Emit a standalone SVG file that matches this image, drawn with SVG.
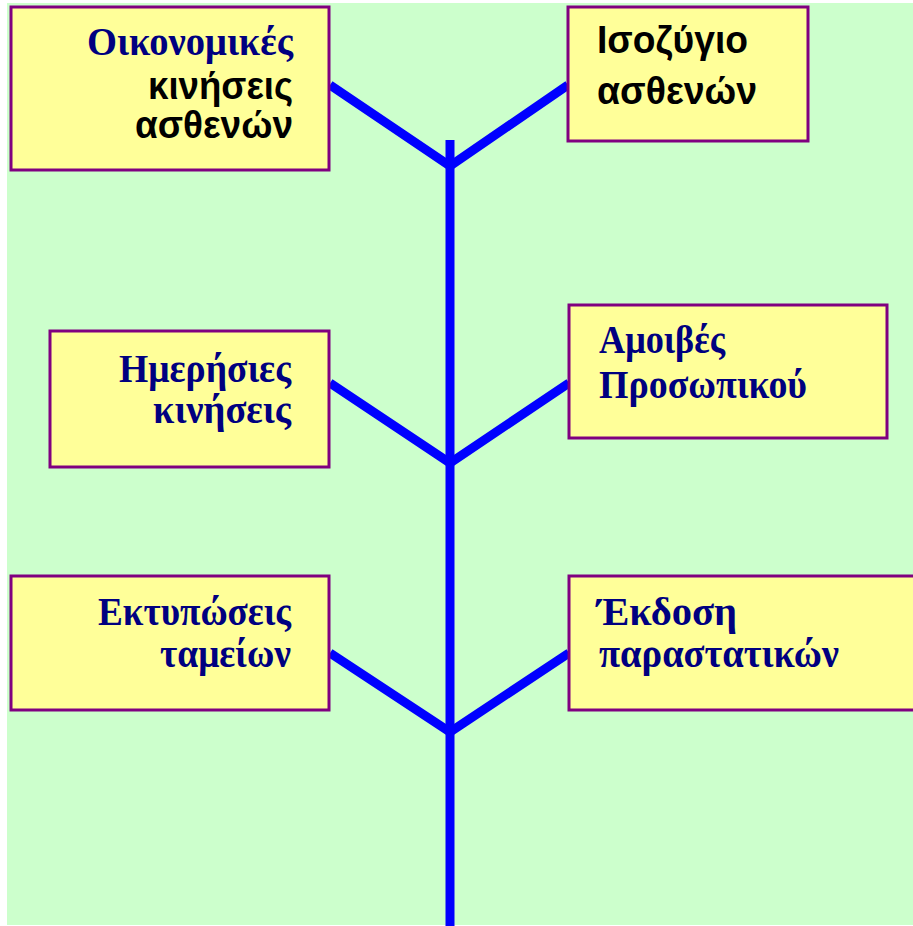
<svg xmlns="http://www.w3.org/2000/svg" width="913" height="926" viewBox="0 0 913 926">
<style>
.box{fill:#FFFF99;stroke:#800080;stroke-width:3}
.ser{font-family:"Liberation Serif","DejaVu Serif",serif;font-weight:bold;font-size:39px;fill:#000080}
.san{font-family:"Liberation Sans","DejaVu Sans",sans-serif;font-weight:bold;font-size:39px;fill:#000000}
.ln{stroke:#0000FF;stroke-width:9;fill:none;stroke-linecap:butt}
</style>
<rect x="0" y="0" width="913" height="926" fill="#FFFFFF"/>
<rect x="7" y="3" width="906" height="922" fill="#CCFFCC"/>
<g id="connectors">
<line class="ln" x1="450" y1="140" x2="450" y2="926"/>
<polyline class="ln" points="330,85 450,166 568,85"/>
<polyline class="ln" points="330,383 450,463 569,383"/>
<polyline class="ln" points="330,653 450,732 569,653"/>
</g>
<g id="n1">
<rect class="box" x="11" y="7" width="318" height="163"/>
<text class="ser" x="293" y="55" text-anchor="end" textLength="206" lengthAdjust="spacingAndGlyphs">Οικονομικές</text>
<text class="san" x="293" y="99" text-anchor="end" textLength="145" lengthAdjust="spacingAndGlyphs">κινήσεις</text>
<text class="san" x="293" y="138" text-anchor="end" textLength="158" lengthAdjust="spacingAndGlyphs">ασθενών</text>
</g>
<g id="n2">
<rect class="box" x="568" y="7" width="240" height="134"/>
<text class="san" x="597" y="53" textLength="151" lengthAdjust="spacingAndGlyphs">Ισοζύγιο</text>
<text class="san" x="597" y="104" textLength="160" lengthAdjust="spacingAndGlyphs">ασθενών</text>
</g>
<g id="n3">
<rect class="box" x="50" y="331" width="279" height="136"/>
<text class="ser" x="291" y="382" text-anchor="end" textLength="172" lengthAdjust="spacingAndGlyphs">Ημερήσιες</text>
<text class="ser" x="291" y="423" text-anchor="end" textLength="138" lengthAdjust="spacingAndGlyphs">κινήσεις</text>
</g>
<g id="n4">
<rect class="box" x="569" y="305" width="318" height="133"/>
<text class="ser" x="599" y="353" textLength="126" lengthAdjust="spacingAndGlyphs">Αμοιβές</text>
<text class="ser" x="599" y="398" textLength="208" lengthAdjust="spacingAndGlyphs">Προσωπικού</text>
</g>
<g id="n5">
<rect class="box" x="11" y="576" width="318" height="134"/>
<text class="ser" x="291" y="625" text-anchor="end" textLength="193" lengthAdjust="spacingAndGlyphs">Εκτυπώσεις</text>
<text class="ser" x="291" y="667" text-anchor="end" textLength="131" lengthAdjust="spacingAndGlyphs">ταμείων</text>
</g>
<g id="n6">
<rect class="box" x="569" y="576" width="350" height="134"/>
<text class="ser" x="597" y="625" textLength="140" lengthAdjust="spacingAndGlyphs">Έκδοση</text>
<text class="ser" x="599" y="667" textLength="240" lengthAdjust="spacingAndGlyphs">παραστατικών</text>
</g>
</svg>
